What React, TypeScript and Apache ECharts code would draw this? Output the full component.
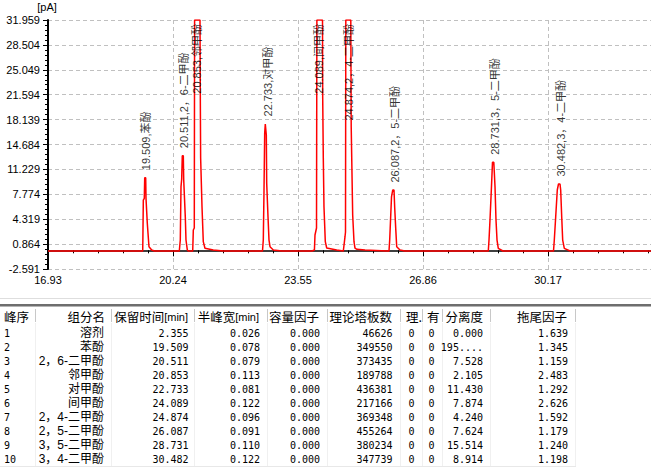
import React, { useEffect, useRef } from "react";
import * as echarts from "echarts";

// ---- chromatogram trace (time in min, signal in pA) ----
const traceTime = [
  16.93, 19.438, 19.442, 19.454, 19.48, 19.491, 19.517, 19.525, 19.559, 19.604, 19.676, 19.75,
  20.407, 20.433, 20.452, 20.47, 20.486, 20.513, 20.523, 20.566, 20.584, 20.619, 20.645,
  20.762, 20.778, 20.804, 20.812, 20.862, 20.955, 20.961, 20.972, 21.008, 21.042, 21.087, 21.307, 21.572,
  22.61, 22.631, 22.65, 22.668, 22.684, 22.7, 22.711, 22.721, 22.756, 22.782, 22.809, 22.896, 23.126,
  23.921, 23.985, 24.0, 24.04, 24.05, 24.127, 24.199, 24.204, 24.22, 24.238, 24.273, 24.31, 24.575,
  24.75, 24.795, 24.808, 24.816, 24.882, 24.948, 24.959, 24.998, 25.033, 25.059, 25.112, 25.324, 25.907,
  25.96, 25.978, 26.026, 26.058, 26.092, 26.111, 26.137, 26.164, 26.251, 26.383,
  28.589, 28.608, 28.634, 28.674, 28.7, 28.735, 28.767, 28.793, 28.82, 28.854, 28.978,
  30.316, 30.337, 30.374, 30.416, 30.448, 30.488, 30.506, 30.533, 30.559, 30.602, 30.753,
  33.48,
];
const traceSignal = [
  -0.09, -0.09, 1.43, 6.98, 7.22, 10.08, 10.08, 7.22, 3.79, 0.5, 0.05, -0.09,
  -0.09, 1.43, 8.83, 9.86, 13.13, 13.13, 9.86, 4.58, 1.43, 0.05, -0.09,
  -0.09, 2.82, 3.1, 45, 60, 45, 23.64, 12.81, 6.05, 1.2, 0.28, 0.05, -0.09,
  -0.09, 1.43, 8.37, 16.28, 17.53, 17.53, 16.0, 9.34, 4.62, 1.43, 0.5, 0.05, -0.09,
  -0.09, 0.05, 2.13, 3.1, 45, 60, 45, 21.32, 12.77, 6.05, 1.2, 0.32, 0.05,
  -0.09, 1.89, 2.54, 45, 60, 45, 17.16, 4.9, 1.2, 0.32, 0.14, 0.05, -0.09,
  -0.09, 1.43, 7.4, 8.37, 8.37, 5.87, 3.1, 0.5, 0.05, -0.09,
  -0.09, 1.43, 4.21, 8.93, 12.22, 12.22, 8.83, 4.21, 1.43, 0.28, -0.09,
  -0.09, 1.43, 4.67, 8.37, 9.2, 9.2, 8.37, 4.67, 1.43, 0.28, -0.09,
  -0.09,
];

// ---- axes ----
const xMin = 16.93;
const xMax = 33.48;
const xInterval = 3.31;
const yMin = -2.591;
const yMax = 31.959;
const yInterval = 3.455;
const yTickLabels = ["-2.591", "0.864", "4.319", "7.774", "11.229", "14.684", "18.139", "21.594", "25.049", "28.504", "31.959"];
const yUnit = "[pA]";

// ---- peak table ----
const peakNo = ["1", "2", "3", "4", "5", "6", "7", "8", "9", "10"];
const compNames = ["溶剂", "苯酚", "2，6-二甲酚", "邻甲酚", "对甲酚", "间甲酚", "2，4-二甲酚", "2，5-二甲酚", "3，5-二甲酚", "3，4-二甲酚"];
const retTime = [2.355, 19.509, 20.511, 20.853, 22.733, 24.089, 24.874, 26.087, 28.731, 30.482];
const halfWidth = ["0.026", "0.078", "0.079", "0.113", "0.081", "0.122", "0.096", "0.091", "0.110", "0.122"];
const capFactor = ["0.000", "0.000", "0.000", "0.000", "0.000", "0.000", "0.000", "0.000", "0.000", "0.000"];
const plates = ["46626", "349550", "373435", "189788", "436381", "217166", "369348", "455264", "380234", "347739"];
const colLi = ["0", "0", "0", "0", "0", "0", "0", "0", "0", "0"];
const colYou = ["0", "0", "0", "0", "0", "0", "0", "0", "0", "0"];
const resolution = ["0.000", "195....", "7.528", "2.105", "11.430", "7.874", "4.240", "7.624", "15.514", "8.914"];
const tailing = ["1.639", "1.345", "1.159", "2.483", "1.292", "2.626", "1.592", "1.179", "1.240", "1.198"];

const CJK = "'Noto Sans CJK SC'";
const SANS = "'Liberation Sans', Arial, 'Noto Sans CJK SC'";
const MONO = "'DejaVu Sans Mono', monospace";

function makeText(x: number, y: number, t: string, align: string, size: number, family: string, rich?: any) {
  return {
    type: "text",
    silent: true,
    x,
    y,
    style: {
      text: t,
      fill: "#000",
      fontSize: size,
      fontFamily: family,
      lineHeight: 13,
      align,
      verticalAlign: "middle",
      textAlign: align,
      textVerticalAlign: "middle",
      rich,
    },
  };
}

function buildTable(): any[] {
  const g: any[] = [];
  const rect = (x: number, y: number, w: number, h: number, fill: string) =>
    g.push({ type: "rect", silent: true, shape: { x, y, width: w, height: h }, style: { fill } });
  const text = (x: number, y: number, t: string, align: string, size: number, family: string, rich?: any) =>
    g.push(makeText(x, y, t, align, size, family, rich));

  // y-axis unit
  text(47, 7, yUnit, "center", 11, SANS);

  rect(0, 298, 651, 1, "#dedede");
  rect(0, 304, 651, 2, "#6e6e6e");
  rect(0, 306, 651, 1, "#b4b4b4");

  const seps = [35, 111, 194, 267, 327, 400, 422, 442, 490, 575];
  seps.forEach((sx) => {
    rect(sx, 309, 1, 13, "#c8c8c8");
    rect(sx, 323, 1, 143, "#f0f0f0");
  });
  rect(0, 466, 576, 1, "#e8e8e8");

  const hy = 316.5;
  const hs = 12.5;
  const richH = {
    a: { fontSize: hs, fontFamily: CJK, lineHeight: 13 },
    b: { fontSize: 11, fontFamily: SANS, lineHeight: 13 },
  };
  text(4, hy, "峰序", "left", hs, CJK);
  text(105, hy, "组分名", "right", hs, CJK);
  text(188, hy, "{a|保留时间}{b|[min]}", "right", hs, CJK, richH);
  text(259, hy, "{a|半峰宽}{b|[min]}", "right", hs, CJK, richH);
  text(319, hy, "容量因子", "right", hs, CJK);
  text(392, hy, "理论塔板数", "right", hs, CJK);
  text(406, hy, "理.", "left", hs, CJK);
  text(427, hy, "有", "left", hs, CJK);
  text(483, hy, "分离度", "right", hs, CJK);
  text(567, hy, "拖尾因子", "right", hs, CJK);

  for (let i = 0; i < peakNo.length; i++) {
    const y = 333.3 + 14 * i;
    text(4, y, peakNo[i], "left", 10, MONO);
    text(104, y, compNames[i], "right", 12, SANS);
    text(188.5, y, retTime[i].toFixed(3), "right", 10, MONO);
    text(260, y, halfWidth[i], "right", 10, MONO);
    text(320, y, capFactor[i], "right", 10, MONO);
    text(392.5, y, plates[i], "right", 10, MONO);
    text(411.5, y, colLi[i], "center", 10, MONO);
    text(431.5, y, colYou[i], "center", 10, MONO);
    text(483, y, resolution[i], "right", 10, MONO);
    text(568, y, tailing[i], "right", 10, MONO);
  }
  return g;
}

export default function App() {
  const ref = useRef<HTMLDivElement>(null);
  useEffect(() => {
    if (!ref.current) return;
    const chart = echarts.init(ref.current, undefined, { renderer: "svg" });

    const lineData = traceTime.map((t, i) => [t, Math.min(traceSignal[i], yMax)]);

    const labelData: any[] = [];
    for (let i = 0; i < retTime.length; i++) {
      const rt = retTime[i];
      if (rt < xMin) continue;
      let apex = -Infinity;
      traceTime.forEach((t, j) => {
        if (Math.abs(t - rt) < 0.12) apex = Math.max(apex, traceSignal[j]);
      });
      const clipped = apex > yMax;
      labelData.push({
        value: [rt, clipped ? yMax : apex],
        name: `${rt.toFixed(3)},${compNames[i]}`,
        label: clipped
          ? { position: [1.5, 4.5], align: "right" }
          : { position: [1.5, -7], align: "left" },
      });
    }

    const option: any = {
      animation: false,
      backgroundColor: "#ffffff",
      grid: {
        left: 48,
        top: 20,
        width: 5 * 125,
        height: 249,
        containLabel: false,
        outerBoundsMode: "none",
      },
      xAxis: {
        type: "value",
        min: xMin,
        max: xMax,
        interval: xInterval,
        axisLine: { lineStyle: { color: "#000", width: 1.5 } },
        axisTick: { show: true, length: 6, lineStyle: { color: "#000" } },
        minorTick: { show: true, splitNumber: 5, length: 3, lineStyle: { color: "#000" } },
        axisLabel: {
          formatter: (v: number) => (v > 33 ? "" : v.toFixed(2)),
          color: "#000",
          fontSize: 11,
          fontFamily: SANS,
          margin: 5,
          showMaxLabel: false,
          hideOverlap: false,
        },
        splitLine: { show: true, lineStyle: { color: "#c0c0c0", type: [4, 3], width: 1 } },
      },
      yAxis: {
        type: "value",
        min: yMin,
        max: yMax,
        interval: yInterval,
        axisLine: { show: true, lineStyle: { color: "#000", width: 2 } },
        axisTick: { show: true, length: 5, lineStyle: { color: "#000" } },
        minorTick: { show: true, splitNumber: 5, length: 3, lineStyle: { color: "#000" } },
        axisLabel: { show: false },
        splitLine: { show: true, lineStyle: { color: "#c0c0c0", type: [4, 3], width: 1 } },
      },
      series: [
        {
          type: "line",
          data: lineData,
          showSymbol: false,
          symbol: "none",
          clip: true,
          lineStyle: { color: "#ff0000", width: 1.5 },
          z: 3,
        },
        {
          type: "scatter",
          data: labelData,
          symbolSize: 1,
          clip: false,
          itemStyle: { color: "rgba(0,0,0,0)" },
          label: {
            show: true,
            formatter: (p: any) => p.name,
            rotate: 90,
            verticalAlign: "middle",
            color: "#000",
            fontSize: 11,
            fontFamily: SANS,
          },
          z: 4,
        },
      ],
    };
    chart.setOption(option);

    // y tick labels placed through the axis scale
    const yLabels = yTickLabels.map((s) => {
      const p = chart.convertToPixel({ gridIndex: 0 }, [xMin, parseFloat(s)]) as number[];
      return makeText(p[0] - 8, p[1], s, "right", 11, SANS);
    });
    chart.setOption({ graphic: [...buildTable(), ...yLabels] });

    return () => chart.dispose();
  }, []);
  return (
    <div
      ref={ref}
      style={{ position: "fixed", left: 0, top: 0, width: 651, height: 469, background: "#fff" }}
    />
  );
}
